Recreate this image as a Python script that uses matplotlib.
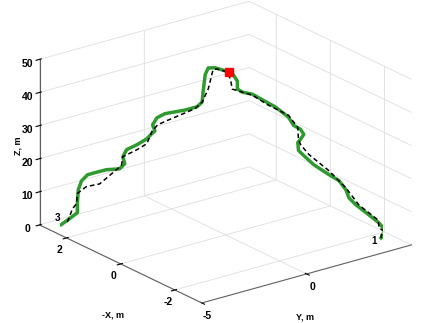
import numpy as np
import matplotlib
matplotlib.use('Agg')
import matplotlib.pyplot as plt

plt.rcParams['font.family'] = ['Liberation Sans', 'DejaVu Sans']
plt.rcParams['font.weight'] = 'bold'
plt.rcParams['axes.unicode_minus'] = False
plt.rcParams['grid.color'] = '#dedede'
plt.rcParams['grid.linewidth'] = 0.6

# estimated trajectory (green), Y / -X / Z in metres
est_y = [4.52, 4.6, 4.6, 4.46, 4.18, 3.82, 3.63, 3.54, 3.35, 3.07, 2.65, 2.38, 2.23, 2.21,
         2.29, 2.38, 2.29, 2.1, 1.96, 1.6, 1.24, 0.96, 0.68, 0.54, 0.54, 0.43, 0.21, -0.07,
         -0.27, -0.35, -0.41, -0.43, -0.57, -0.91, -1.46, -1.68, -1.8, -1.74, -1.83, -1.96,
         -2.24, -2.52, -2.63, -2.57, -2.72, -3.08, -3.41, -3.6, -3.77, -3.86, -3.88, -3.88,
         -4.1, -4.33]
est_nx = [-2.25, -2.3, -2.3, -2.22, -2.07, -1.86, -1.75, -1.71, -1.6, -1.44, -1.21, -1.05,
          -0.97, -0.96, -1.0, -1.05, -1.0, -0.89, -0.81, -0.61, -0.41, -0.25, -0.1, -0.02,
          -0.02, 0.04, 0.17, 0.33, 0.43, 0.48, 0.51, 0.53, 0.61, 0.79, 1.11, 1.23, 1.3, 1.26,
          1.31, 1.39, 1.54, 1.7, 1.76, 1.73, 1.81, 2.01, 2.2, 2.31, 2.4, 2.45, 2.47, 2.47,
          2.59, 2.72]
est_z = [0.0, 0.9, 2.7, 4.5, 6.8, 9.7, 11.7, 14.1, 16.8, 18.5, 21.3, 23.9, 25.4, 27.8,
         28.8, 30.3, 31.8, 32.9, 35.3, 38.2, 40.2, 41.8, 42.3, 43.2, 45.6, 47.4, 48.5, 49.3,
         49.2, 47.1, 41.9, 38.8, 37.3, 36.2, 34.8, 33.5, 31.3, 29.5, 28.6, 27.0, 25.1, 23.5,
         21.3, 19.2, 17.6, 17.2, 16.1, 15.4, 13.5, 10.8, 6.5, 3.8, 1.9, 0.0]

# reference trajectory (black dashed)
ref_y = [4.52, 4.52, 4.6, 4.46, 4.43, 3.9, 3.54, 3.07, 2.52, 2.29, 2.23, 2.21, 1.96, 1.4,
         0.96, 0.68, 0.4, 0.35, 0.26, -0.02, -0.13, -0.27, -0.43, -0.63, -1.38, -1.66, -1.83,
         -1.88, -1.96, -2.24, -2.63, -2.66, -2.8, -3.27, -3.63, -3.88, -3.91, -4.02, -4.1,
         -4.19]
ref_nx = [-2.25, -2.25, -2.3, -2.22, -2.21, -1.91, -1.71, -1.44, -1.13, -1.0, -0.97, -0.96,
          -0.81, -0.5, -0.25, -0.1, 0.06, 0.09, 0.14, 0.3, 0.36, 0.43, 0.53, 0.64, 1.06, 1.22,
          1.31, 1.34, 1.39, 1.54, 1.76, 1.78, 1.86, 2.12, 2.33, 2.47, 2.48, 2.54, 2.59, 2.64]
ref_z = [0.0, 0.9, 2.1, 3.0, 5.4, 9.7, 14.7, 19.7, 24.3, 27.2, 28.7, 32.3, 35.9, 38.7,
         41.5, 42.3, 43.1, 46.1, 48.2, 49.0, 48.7, 42.8, 38.8, 36.7, 32.9, 31.4, 29.2, 27.7,
         25.5, 23.6, 21.3, 18.8, 17.3, 12.8, 11.8, 9.6, 6.5, 5.0, 2.5, 0.0]

peak = (0.3, 0.12, 48.2)
y_ticks = [-5, 0]
nx_ticks = [-2, 0, 2]
z_ticks = [0, 10, 20, 30, 40, 50]

fig = plt.figure(figsize=(4.22, 3.23), dpi=100)
ax = fig.add_axes([0.024, 0.0155, 1.0, 1.0], projection='3d', proj_type='ortho')
ax.view_init(elev=21.4, azim=-127.2)
ax.set_box_aspect((1.48, 1.51, 1.0), zoom=1.25)

ax.plot(est_y, est_nx, est_z, color='#2f9a2f', lw=2.5)
ax.plot(ref_y, ref_nx, ref_z, color='black', lw=1.1, ls=(0, (3, 2)))
ax.plot([peak[0]], [peak[1]], [peak[2]], 's', color='red', ms=6)
ax.text(est_y[0] - 0.45, est_nx[0], -1, '1', fontsize=7)
ax.text(est_y[-1] - 0.3, est_nx[-1], 1.5, '3', fontsize=7)

ax.set_xlim(-5, 5)
ax.set_ylim(-3, 3)
ax.set_zlim(0, 50)
ax.set_xticks(y_ticks)
ax.set_yticks(nx_ticks)
ax.set_zticks(z_ticks)
ax.xaxis.set_tick_params(labelsize=7.5, pad=-4)
ax.yaxis.set_tick_params(labelsize=7.5, pad=-4)
ax.zaxis.set_tick_params(labelsize=7.5, pad=-4)

# axis titles placed like the original (horizontal under the floor axes)
fig.text(0.268, 0.025, '-X, m', fontsize=6.5, ha='center', va='center')
fig.text(0.723, 0.018, 'Y, m', fontsize=6.5, ha='center', va='center')
fig.text(0.042, 0.55, 'Z, m', fontsize=6.5, ha='center', va='center', rotation=90)

for axis in (ax.xaxis, ax.yaxis, ax.zaxis):
    axis.set_pane_color((1, 1, 1, 0))
    axis.pane.set_edgecolor('#d8d8d8')
    axis.line.set_color('#606060')
    axis.line.set_linewidth(0.8)

fig.savefig('out.png', dpi=100)
